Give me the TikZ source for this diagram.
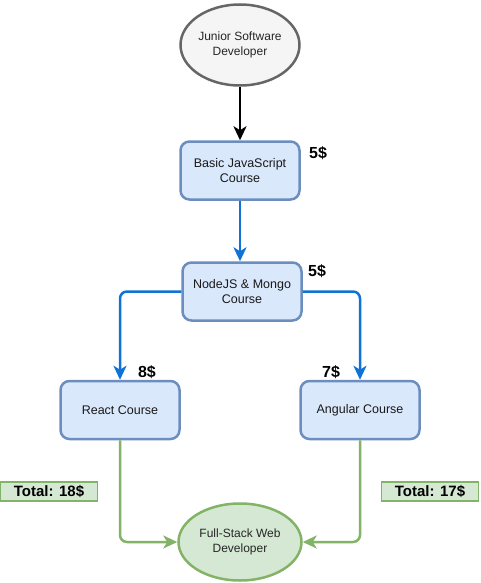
\documentclass[tikz,border=0pt]{standalone}
\usepackage{fontspec}
\setmainfont{Liberation Sans}
\usetikzlibrary{arrows.meta,shapes.geometric}
\definecolor{greyfill}{HTML}{F5F5F5}
\definecolor{greyline}{HTML}{666666}
\definecolor{bluefill}{HTML}{DAE8FC}
\definecolor{blueline}{HTML}{6C8EBF}
\definecolor{bluearrow}{HTML}{0F72D6}
\definecolor{greenfill}{HTML}{D5E8D4}
\definecolor{greenline}{HTML}{82B366}
\begin{document}
\begin{tikzpicture}[x=1pt,y=-1pt,
    role/.style={ellipse, draw=greyline, fill=greyfill, line width=2.5pt,
      minimum width=119pt, minimum height=81pt, align=center, inner sep=0pt,
      font=\fontsize{12}{14.5}\selectfont, text=black!85},
    course/.style={draw=blueline, fill=bluefill, line width=2.5pt,
      rounded corners=9pt, minimum width=119pt, minimum height=58pt,
      align=center, inner sep=0pt, font=\fontsize{12.5}{15}\selectfont,
      text=black!90},
    cost/.style={font=\bfseries\fontsize{16}{18}\selectfont, inner sep=0pt},
    total/.style={draw=greenline, fill=greenfill, line width=1.2pt,
      minimum width=97pt, minimum height=19pt, inner sep=0pt,
      font=\bfseries\fontsize{15}{17}\selectfont},
    link/.style={line width=2.5pt, rounded corners=7pt,
      -{Stealth[length=14pt,width=13pt,inset=4pt]}}]
  \useasboundingbox (0,0) rectangle (481,583);
  % nodes
  \node[role] (junior) at (240,45) {Junior Software\\Developer};
  \node[course] (basic) at (240,170.5) {Basic JavaScript\\Course};
  \node[course] (nodejs) at (242,291.5) {NodeJS \& Mongo\\Course};
  \node[course] (react) at (120,410) {React Course};
  \node[course] (angular) at (360,410) {Angular Course};
  \node[role, draw=greenline, fill=greenfill, minimum width=123pt,
    minimum height=77pt] (fullstack) at (240,542) {Full-Stack Web\\Developer};
  % costs
  \node[cost] (costbasic) at (318,153) {5\$};
  \node[cost] (costnode) at (317,271) {5\$};
  \node[cost] (costreact) at (147,372) {8\$};
  \node[cost] (costangular) at (331,372) {7\$};
  \node[total] (totalreact) at (49,491.5) {Total: 18\$};
  \node[total] (totalangular) at (430,491.5) {Total: 17\$};
  % connectors
  \draw[link] (junior.south) -- (basic.north);
  \begin{scope}[draw=bluearrow]
    \draw[link] (basic.south) -- (basic.south |- nodejs.north);
    \draw[link] (nodejs.west) -| (react.north);
    \draw[link] (nodejs.east) -| (angular.north);
  \end{scope}
  \begin{scope}[draw=greenline]
    \draw[link] (react.south) |- (fullstack.west);
    \draw[link] (angular.south) |- (fullstack.east);
  \end{scope}
\end{tikzpicture}
\end{document}
